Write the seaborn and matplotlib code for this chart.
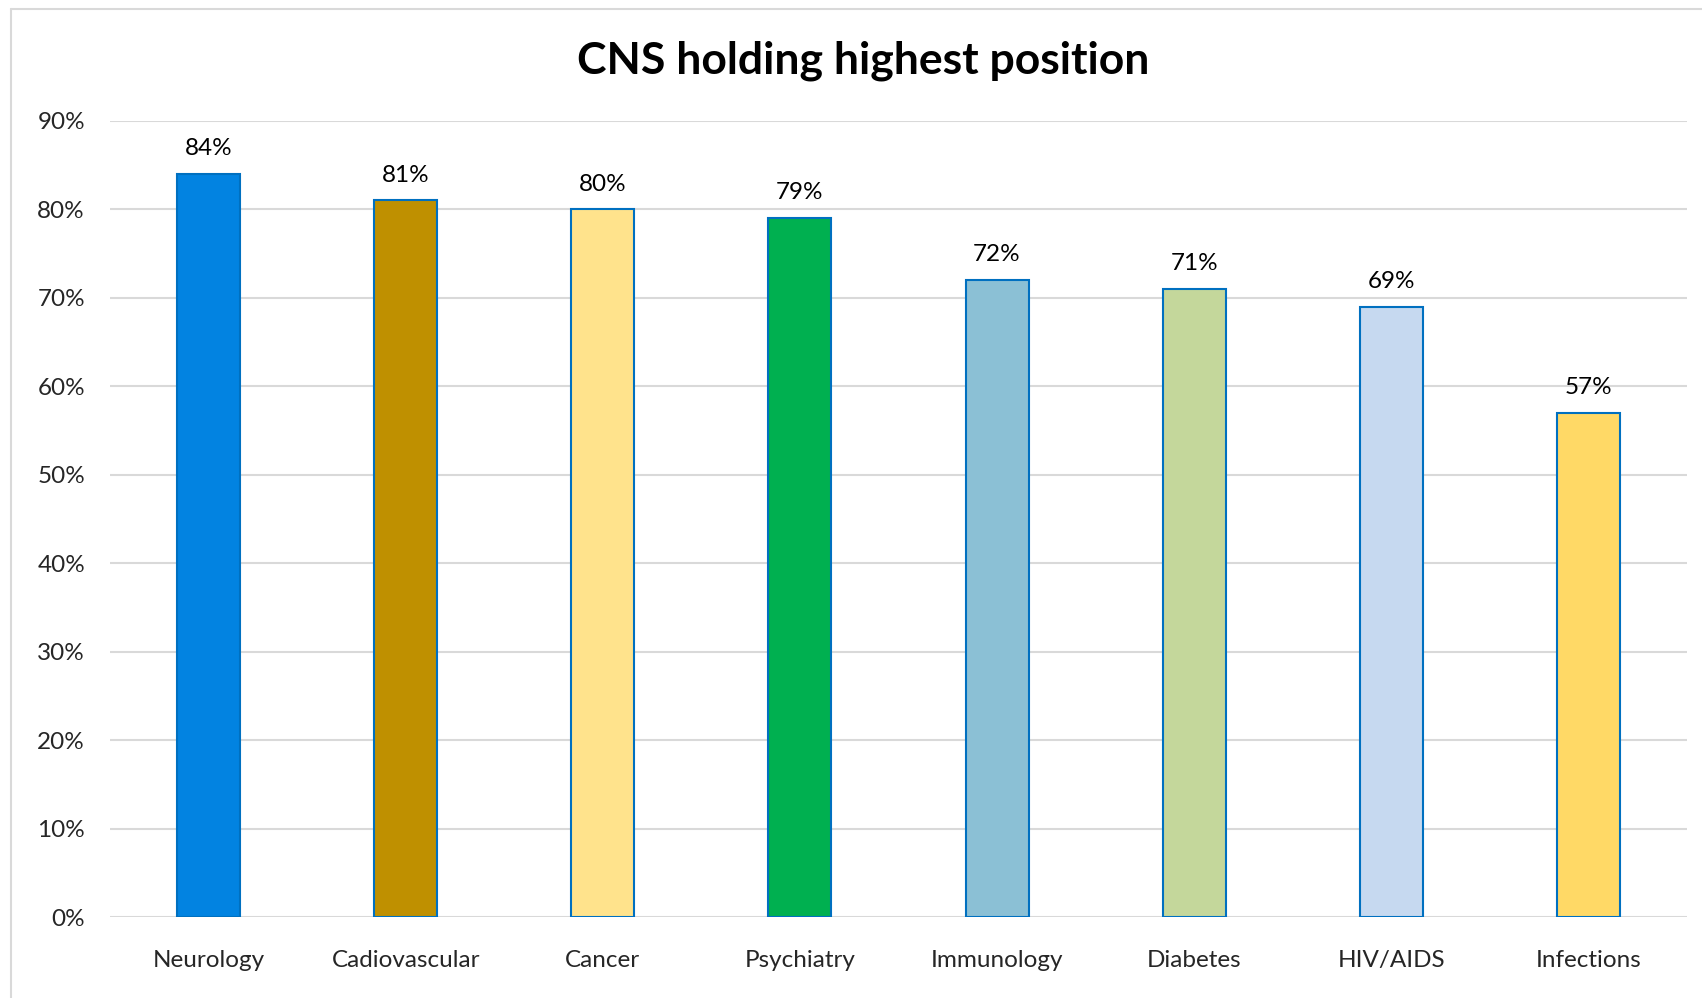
import matplotlib
matplotlib.use("Agg")
import matplotlib.pyplot as plt
import seaborn as sns
import pandas as pd
from matplotlib.lines import Line2D
from matplotlib.ticker import FuncFormatter

categories = ["Neurology", "Cadiovascular", "Cancer", "Psychiatry",
              "Immunology", "Diabetes", "HIV/AIDS", "Infections"]
values = [0.84, 0.81, 0.80, 0.79, 0.72, 0.71, 0.69, 0.57]
bar_colors = ["#0283E1", "#BF9000", "#FFE38C", "#00B050",
              "#8BC0D5", "#C4D79B", "#C6D9F0", "#FFD966"]
y_ticks = [0.0, 0.1, 0.2, 0.3, 0.4, 0.5, 0.6, 0.7, 0.8, 0.9]

df = pd.DataFrame({"Area": categories, "Share": values})

sns.set_style("white")
plt.rcParams["font.family"] = ["Lato", "DejaVu Sans"]

W, H = 1702, 998
fig = plt.figure(figsize=(W / 100, H / 100), dpi=100)
ax = fig.add_axes([110 / W, (H - 917) / H, (1687 - 110) / W, (917 - 120.7) / H])

sns.barplot(data=df, x="Area", y="Share", hue="Area", palette=bar_colors,
            legend=False, width=0.32, edgecolor="#0070C0", linewidth=1.5,
            saturation=1, ax=ax)

for c in ax.containers:
    ax.bar_label(c, fmt=lambda v: f"{v * 100:.0f}%", padding=10.5, fontsize=17.5,
                 color="#000000")

ax.set_ylim(0, 0.9)
ax.set_yticks(y_ticks)
ax.yaxis.set_major_formatter(FuncFormatter(lambda v, _: f"{v * 100:.0f}%"))
ax.grid(axis="y", color="#D9D9D9", linewidth=1.5)
ax.set_axisbelow(True)
for s in ax.spines.values():
    s.set_visible(False)
ax.tick_params(axis="y", length=0, pad=18, labelsize=17.5)
ax.tick_params(axis="x", length=0, pad=23.5, labelsize=17.5)
ax.set_xlabel("")
ax.set_ylabel("")

fig.text(863 / W, 1 - 61 / H, "CNS holding highest position", ha="center",
         va="center", fontsize=32, fontweight="bold", color="#000000")

# outer chart frame (right and bottom edges fall outside the image)
fig.add_artist(Line2D([10.5 / W, 10.5 / W], [0, 1 - 8.5 / H],
                      transform=fig.transFigure, color="#D9D9D9", linewidth=1.5))
fig.add_artist(Line2D([10.5 / W, 1], [1 - 8.5 / H, 1 - 8.5 / H],
                      transform=fig.transFigure, color="#D9D9D9", linewidth=1.5))

fig.savefig("out.png", dpi=100)
